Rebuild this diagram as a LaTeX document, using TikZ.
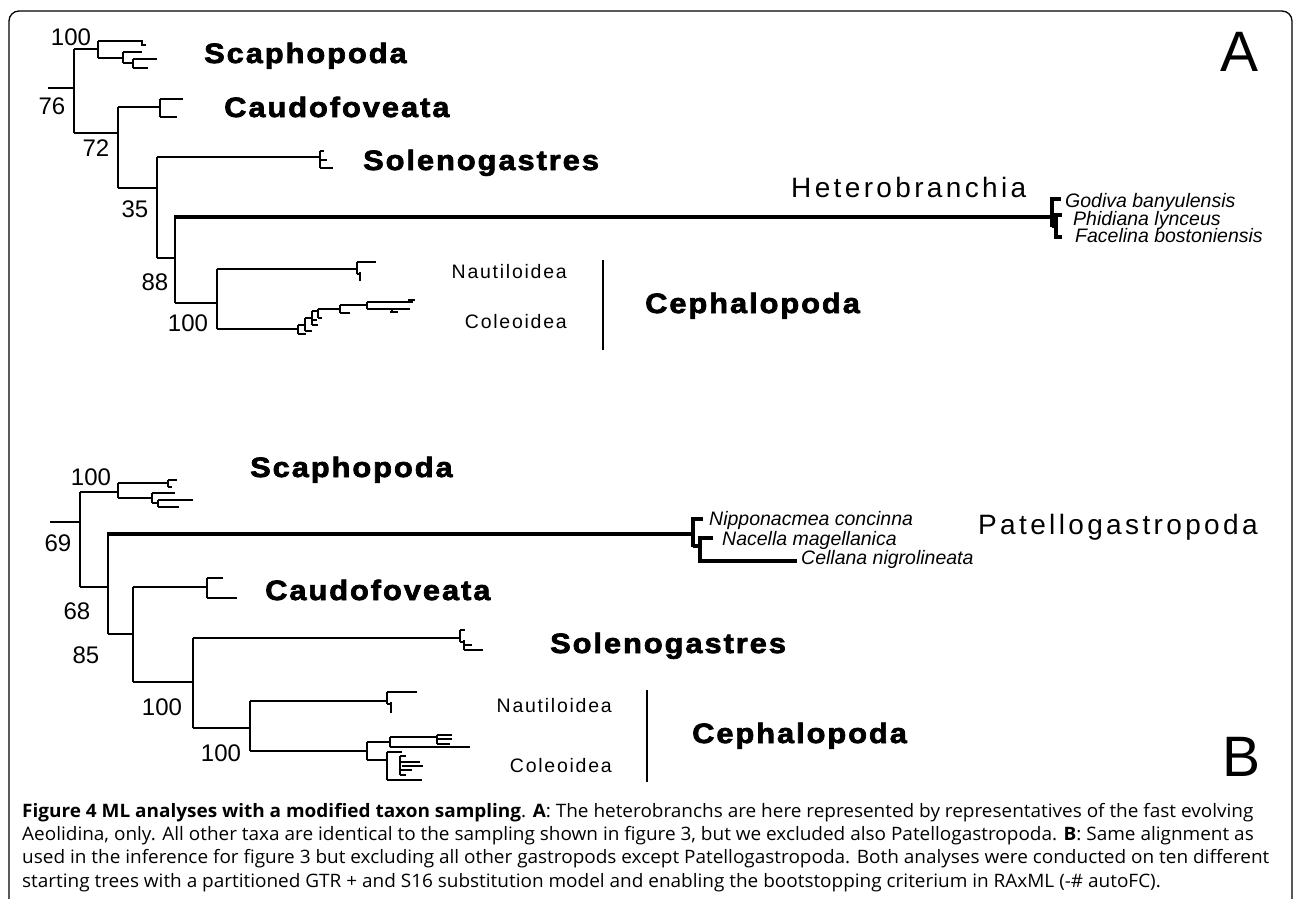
\documentclass[tikz,border=0pt]{standalone}
\usepackage{fontspec}
\setmainfont{Liberation Sans}
\newfontfamily\grpfont[FakeStretch=1.1,LetterSpace=7,FakeBold=2.5]{Liberation Sans}
\newfontfamily\bigfont[LetterSpace=12]{Liberation Sans}
\newfontfamily\subfont[LetterSpace=9]{Liberation Sans}
\newfontfamily\capfont[FakeStretch=1.025]{Open Sans}
\begin{document}
\begin{tikzpicture}[x=1pt,y=-1pt,
  br/.style={line width=2.4pt},
  tk/.style={line width=4.4pt},
  bs/.style={font=\fontsize{24}{26}\selectfont, inner sep=0pt},
  grp/.style={font=\grpfont\bfseries\fontsize{28}{30}\selectfont, inner sep=0pt, anchor=base west},
  big/.style={font=\bigfont\fontsize{28}{30}\selectfont, inner sep=0pt, anchor=base west},
  sub/.style={font=\subfont\fontsize{19.5}{21}\selectfont, inner sep=0pt, anchor=base east},
  tax/.style={font=\itshape\fontsize{19.5}{21}\selectfont, inner sep=0pt, anchor=base west},
  pan/.style={font=\fontsize{57}{60}\selectfont, inner sep=0pt, anchor=base west}]
\useasboundingbox (0,0) rectangle (1293,899);
% frame
\draw[line width=1.3pt, rounded corners=10pt] (9,905) -- (9,11) -- (1292,11) -- (1292,905);

% ================= Tree A =================
\coordinate (ar) at (74,88);
\draw[br] (48,88) -- (ar);
\draw[br] (74,49) -- (74,133);
% Scaphopoda A
\draw[br] (74,49) -- (98,49) (98,41) -- (98,58)
  (98,41) -- (142,41) (142,40) -- (142,45) -- (146,45)
  (98,58) -- (123,58) (123,52) -- (123,63) (123,52) -- (142,52) (123,63) -- (133,63)
  (133,59) -- (133,68) (133,59) -- (157,59) (133,68) -- (148,68);
% node 72
\draw[br] (74,133) -- (118,133) (118,107) -- (118,188);
\draw[br] (118,107) -- (160,107) (160,99) -- (160,117) (160,99) -- (183,99) (160,117) -- (177,117);
% node 35
\draw[br] (118,188) -- (157,188) (157,157) -- (157,258);
\draw[br] (157,157) -- (320,157) (320,151) -- (320,168) (320,151) -- (324,151)
  (320,160) -- (327,160) (320,168) -- (333,168);
% node 88
\draw[br] (157,258) -- (175,258) (175,217) -- (175,303);
\draw[tk] (174,217) -- (1052,217);
\draw[tk] (1052,199) -- (1052,227) (1050,199) -- (1061,199) (1052,226) -- (1056,226)
  (1056,215) -- (1056,238) (1054,215) -- (1062,215) (1054,237) -- (1062,237);
% node 100 cephalopods
\draw[br] (175,303) -- (217,303) (217,269) -- (217,329);
\draw[br] (217,269) -- (357,269) (357,262) -- (357,274) (357,262) -- (376,262)
  (357,274) -- (360,274) (360,272) -- (360,281);
\draw[br] (217,329) -- (298,329) (298,325) -- (298,334) (298,334) -- (306,334) (298,325) -- (305,325)
  (305,318) -- (305,331) (305,331) -- (312,331) (305,318) -- (312,318)
  (312,311) -- (312,325) (312,325) -- (318,325) (312,320) -- (317,320) (312,311) -- (318,311)
  (318,309) -- (318,318) (318,318) -- (322,318) (318,309) -- (340,309)
  (340,305) -- (340,313) (340,313) -- (350,313) (340,305) -- (367,305)
  (367,302) -- (367,309) (367,302) -- (413,302) (367,309) -- (410,309)
  (392,309) -- (392,312) (390,312) -- (398,312) (408,300) -- (415,300);

% labels A
\node[bs] (a100a) at (71,37) {100};
\node[bs] (a76) at (52,106) {76};
\node[bs] (a72) at (96,148) {72};
\node[bs] (a35) at (135,209) {35};
\node[bs] (a88) at (155,282) {88};
\node[bs] (a100b) at (188,323) {100};
\node[grp] (aScaph) at (204,63) {Scaphopoda};
\node[grp] (aCaudo) at (224,117) {Caudofoveata};
\node[grp] (aSoleno) at (363,170) {Solenogastres};
\node[big] (aHetero) at (791,197) {Heterobranchia};
\node[tax] (aGod) at (1065,207) {Godiva banyulensis};
\node[tax] (aPhi) at (1073,225) {Phidiana lynceus};
\node[tax] (aFac) at (1075,242) {Facelina bostoniensis};
\node[sub] (aNaut) at (567,278) {Nautiloidea};
\node[sub] (aCole) at (567,328) {Coleoidea};
\coordinate (abt) at (603,260);
\coordinate (abb) at (603,350);
\draw[br] (abt) -- (abb);
\node[grp] (aCeph) at (645,313) {Cephalopoda};
\node[pan] (A) at (1220,71) {A};

% ================= Tree B =================
\draw[br] (50,522) -- (80,522) (80,492) -- (80,587);
% Scaphopoda B
\draw[br] (80,492) -- (118,492) (118,483) -- (118,498)
  (118,483) -- (168,483) (168,480) -- (168,487) (168,480) -- (177,480) (168,487) -- (172,487)
  (118,498) -- (152,498) (152,493) -- (152,503) (152,493) -- (175,493) (152,503) -- (158,503)
  (158,500) -- (158,507) (158,500) -- (193,500) (158,507) -- (179,507);
\draw[br] (80,587) -- (108,587) (108,534) -- (108,634);
\draw[tk] (107,534) -- (693,534);
\draw[tk] (693,519) -- (693,547) (691,519) -- (703,519) (693,546) -- (700,546)
  (700,538) -- (700,562) (698,538) -- (713,538) (698,561) -- (797,561);
\draw[br] (108,634) -- (133,634) (133,587) -- (133,682);
\draw[br] (133,587) -- (207,587) (207,578) -- (207,598) (207,578) -- (223,578) (207,598) -- (237,598);
\draw[br] (133,682) -- (193,682) (193,638) -- (193,728);
\draw[br] (193,638) -- (460,638) (460,630) -- (460,642) (460,630) -- (465,630) (460,642) -- (464,642)
  (464,640) -- (464,650) (464,650) -- (483,650) (464,645) -- (472,645);
\draw[br] (193,728) -- (250,728) (250,701) -- (250,751);
\draw[br] (250,701) -- (387,701) (387,692) -- (387,704) (387,692) -- (417,692)
  (387,704) -- (391,704) (391,702) -- (391,713);
\draw[br] (250,751) -- (367,751) (367,742) -- (367,760)
  (367,742) -- (390,742) (390,737) -- (390,747) (390,737) -- (437,737)
  (437,735) -- (437,744) (437,735) -- (452,735) (437,739) -- (452,739) (437,744) -- (450,744)
  (390,747) -- (470,747)
  (367,760) -- (387,760) (387,752) -- (387,780) (387,752) -- (402,752)
  (400,756) -- (400,775) (400,756) -- (406,756) (400,762) -- (420,762) (402,766) -- (423,766)
  (400,770) -- (412,770) (400,775) -- (406,775) (387,780) -- (422,780);

% labels B
\node[bs] (b100a) at (91,477) {100};
\node[bs] (b69) at (58,543) {69};
\node[bs] (b68) at (77,611) {68};
\node[bs] (b85) at (86,655) {85};
\node[bs] (b100b) at (162,707) {100};
\node[bs] (b100c) at (221,753) {100};
\node[grp] (bScaph) at (250,477) {Scaphopoda};
\node[grp] (bCaudo) at (265,600) {Caudofoveata};
\node[grp] (bSoleno) at (550,653) {Solenogastres};
\node[big] (bPatel) at (978,534) {Patellogastropoda};
\node[tax] (bNip) at (709,525) {Nipponacmea concinna};
\node[tax] (bNac) at (722,545) {Nacella magellanica};
\node[tax] (bCel) at (801,564) {Cellana nigrolineata};
\node[sub] (bNaut) at (612,712) {Nautiloidea};
\node[sub] (bCole) at (612,772) {Coleoidea};
\coordinate (bbt) at (647,690);
\coordinate (bbb) at (647,782);
\draw[br] (bbt) -- (bbb);
\node[grp] (bCeph) at (692,743) {Cephalopoda};
\node[pan] (B) at (1222,776) {B};

% caption
\node[inner sep=0pt, anchor=north west, align=left, font=\capfont\fontsize{18.5}{23.3}\selectfont] (cap) at (22,803)
{\textbf{Figure 4 ML analyses with a modified taxon sampling}. \textbf{A}: The heterobranchs are here represented by representatives of the fast evolving\\
Aeolidina, only. All other taxa are identical to the sampling shown in figure 3, but we excluded also Patellogastropoda. \textbf{B}: Same alignment as\\
used in the inference for figure 3 but excluding all other gastropods except Patellogastropoda. Both analyses were conducted on ten different\\
starting trees with a partitioned GTR + and S16 substitution model and enabling the bootstopping criterium in RAxML (-\# autoFC).};
\end{tikzpicture}
\end{document}
